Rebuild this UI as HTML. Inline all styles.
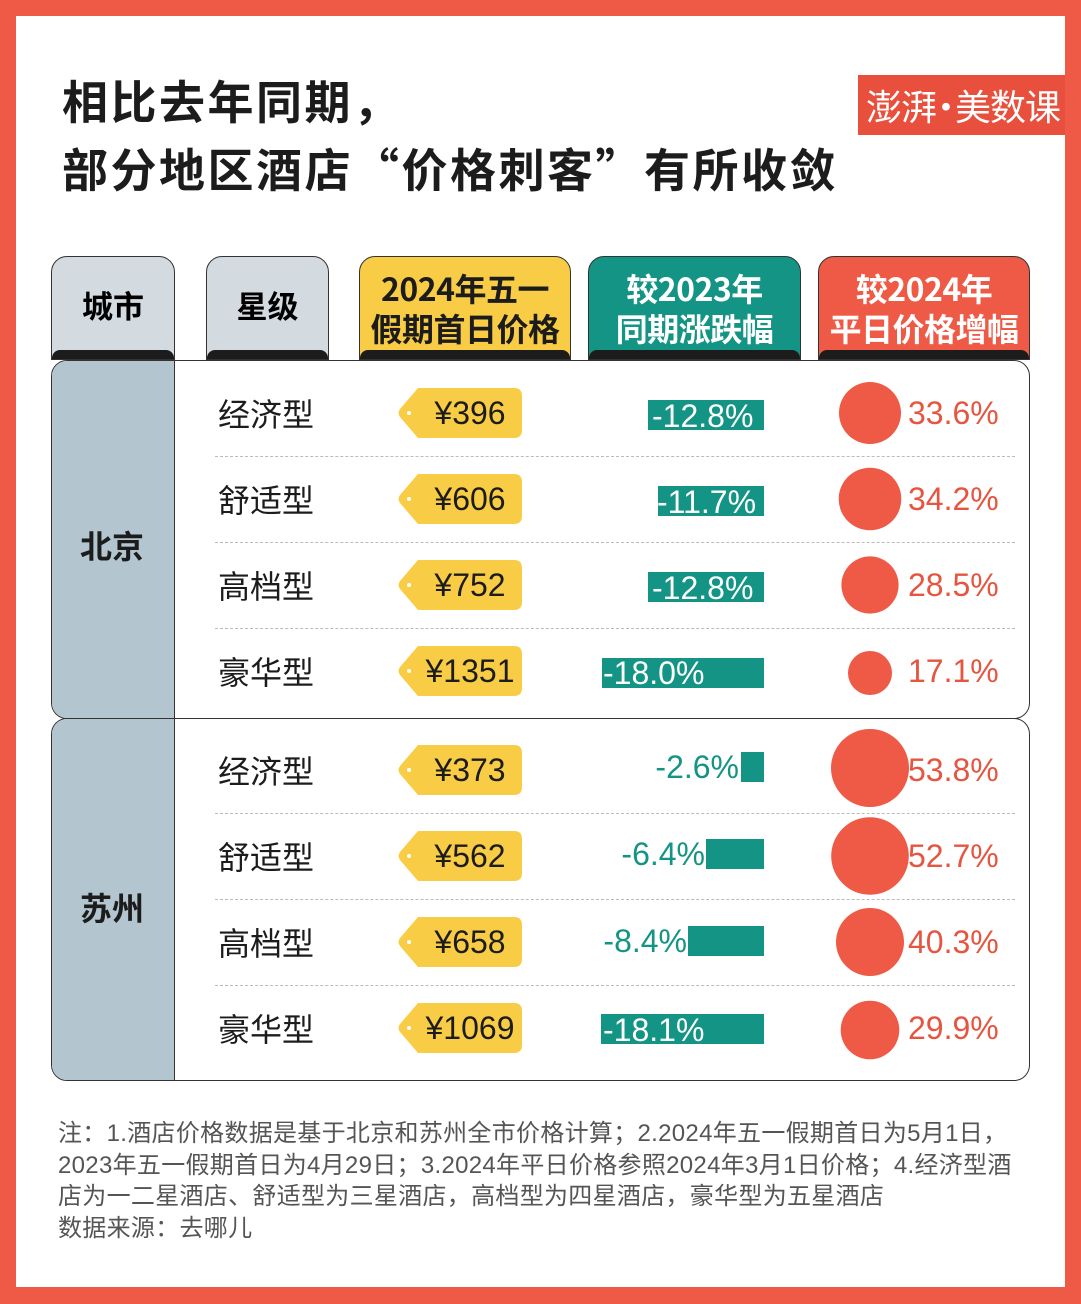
<!DOCTYPE html>
<html><head><meta charset="utf-8"><style>
*{margin:0;padding:0;box-sizing:border-box}
body{width:1081px;height:1304px;background:#ee5a45;position:relative;overflow:hidden;font-family:"Liberation Sans","Noto Sans CJK SC",sans-serif}
.in{position:absolute;left:16px;top:16px;width:1049px;height:1271px;background:#fff}
.a{position:absolute}
.t{font-size:46px;font-weight:bold;color:#1c1c1c;left:62px;line-height:68px;font-family:"Noto Sans CJK SC",sans-serif;white-space:nowrap;letter-spacing:2.5px}
.h{position:absolute;top:256px;height:104px;border:1.5px solid #333;border-radius:16px 16px 0 0;text-align:center;font-weight:bold;font-family:"Noto Sans CJK SC",sans-serif;overflow:hidden;white-space:nowrap}
.h .s{position:absolute;left:0;right:0;bottom:0;height:9px;background:#1c1c1c;border-radius:8px 8px 0 0}
.lab{position:absolute;left:218px;font-size:32px;color:#1c1c1c;font-family:"Noto Sans CJK SC",sans-serif;line-height:40px}
.tag{position:absolute;left:397px;width:126px;height:50px}
.tag span{position:absolute;left:0;right:0;top:0;line-height:50px;text-align:center;padding-left:20px;font-size:32px;color:#1c1c1c}
.bar{position:absolute;background:#149484;height:30px}
.pt{position:absolute;font-size:32px;line-height:32px;color:#fff}
.pt.o{color:#149484}
.pc{position:absolute;left:908px;font-size:32px;color:#e5553f;line-height:40px}
.d{position:absolute;left:215px;width:800px;border-top:1.5px dashed #bbb}
.city{position:absolute;left:80px;font-size:32px;font-weight:bold;font-family:"Noto Sans CJK SC",sans-serif;color:#1c1c1c}
.note{position:absolute;left:58px;top:1118px;width:975px;font-size:24px;line-height:31.5px;color:#555;font-family:"Liberation Sans","Noto Sans CJK SC",sans-serif;letter-spacing:0.3px}
</style></head><body>
<div class="in"></div>
<div class="a t" style="top:66px">相比去年同期，</div>
<div class="a t" style="top:134px">部分地区酒店“价格刺客”有所收敛</div>
<div class="a" style="left:858px;top:75px;width:207px;height:60px;background:#e8503d;color:#fff;font-size:36px;line-height:60px;padding-left:8px;font-family:'Noto Sans CJK SC',sans-serif;white-space:nowrap;letter-spacing:-1px">澎湃<span style="margin:0 -8px">·</span>美数课</div>

<div class="h" style="left:51px;width:124px;background:#d3dbe1;font-size:31px;line-height:96px">城市<div class="s"></div></div>
<div class="h" style="left:206px;width:123px;background:#d3dbe1;font-size:31px;line-height:96px">星级<div class="s"></div></div>
<div class="h" style="left:359px;width:212px;background:#f9cc45;font-size:32px;line-height:40px;padding-top:11px;color:#1c1c1c;letter-spacing:-0.5px">2024年五一<br>假期首日价格<div class="s"></div></div>
<div class="h" style="left:588px;width:213px;background:#149484;font-size:32px;line-height:40px;padding-top:11px;color:#fff;letter-spacing:-0.5px">较2023年<br>同期涨跌幅<div class="s"></div></div>
<div class="h" style="left:818px;width:212px;background:#ee5a45;font-size:32px;line-height:40px;padding-top:11px;color:#fff;letter-spacing:-0.5px">较2024年<br>平日价格增幅<div class="s"></div></div>

<div class="a" style="left:51px;top:360px;width:979px;height:359px;border:1.5px solid #333;border-radius:16px;background:#fff;overflow:hidden"><div class="a" style="left:0;top:0;width:123px;height:100%;background:#b3c6cf;border-right:1.5px solid #333"></div></div>
<div class="a" style="left:51px;top:718px;width:979px;height:363px;border:1.5px solid #333;border-radius:16px;background:#fff;overflow:hidden"><div class="a" style="left:0;top:0;width:123px;height:100%;background:#b3c6cf;border-right:1.5px solid #333"></div></div>
<div class="city" style="top:522px">北京</div>
<div class="city" style="top:884px">苏州</div>

<div class="d" style="top:456px"></div><div class="d" style="top:542px"></div><div class="d" style="top:628px"></div>
<div class="d" style="top:813px"></div><div class="d" style="top:899px"></div><div class="d" style="top:985px"></div>

<svg class="a" style="left:0;top:0" width="1081" height="1304">
<g fill="#f9cc45">
<path d="M418 388 H514 Q522 388 522 396 V430 Q522 438 514 438 H418 L400 417 Q397 413 400 409 Z"/>
<path d="M418 474 H514 Q522 474 522 482 V516 Q522 524 514 524 H418 L400 503 Q397 499 400 495 Z"/>
<path d="M418 560 H514 Q522 560 522 568 V602 Q522 610 514 610 H418 L400 589 Q397 585 400 581 Z"/>
<path d="M418 646 H514 Q522 646 522 654 V688 Q522 696 514 696 H418 L400 675 Q397 671 400 667 Z"/>
<path d="M418 745 H514 Q522 745 522 753 V787 Q522 795 514 795 H418 L400 774 Q397 770 400 766 Z"/>
<path d="M418 831 H514 Q522 831 522 839 V873 Q522 881 514 881 H418 L400 860 Q397 856 400 852 Z"/>
<path d="M418 917 H514 Q522 917 522 925 V959 Q522 967 514 967 H418 L400 946 Q397 942 400 938 Z"/>
<path d="M418 1003 H514 Q522 1003 522 1011 V1045 Q522 1053 514 1053 H418 L400 1032 Q397 1028 400 1024 Z"/>
</g>
<g fill="#fff"><circle cx="409" cy="413" r="2"/><circle cx="409" cy="499" r="2"/><circle cx="409" cy="585" r="2"/><circle cx="409" cy="671" r="2"/><circle cx="409" cy="770" r="2"/><circle cx="409" cy="856" r="2"/><circle cx="409" cy="942" r="2"/><circle cx="409" cy="1028" r="2"/></g>
<g fill="#ee5a45">
<circle cx="870" cy="413" r="31"/><circle cx="870" cy="499" r="31.3"/><circle cx="870" cy="585" r="28.6"/><circle cx="870" cy="673" r="22"/>
<circle cx="870" cy="768" r="39"/><circle cx="870" cy="856" r="38.8"/><circle cx="870" cy="942" r="34"/><circle cx="870" cy="1030" r="29.3"/>
</g>
</svg>

<div class="lab" style="top:393px">经济型</div><div class="lab" style="top:479px">舒适型</div><div class="lab" style="top:565px">高档型</div><div class="lab" style="top:651px">豪华型</div>
<div class="lab" style="top:750px">经济型</div><div class="lab" style="top:836px">舒适型</div><div class="lab" style="top:922px">高档型</div><div class="lab" style="top:1008px">豪华型</div>

<div class="tag" style="top:388px"><span>¥396</span></div>
<div class="tag" style="top:474px"><span>¥606</span></div>
<div class="tag" style="top:560px"><span>¥752</span></div>
<div class="tag" style="top:646px"><span>¥1351</span></div>
<div class="tag" style="top:745px"><span>¥373</span></div>
<div class="tag" style="top:831px"><span>¥562</span></div>
<div class="tag" style="top:917px"><span>¥658</span></div>
<div class="tag" style="top:1003px"><span>¥1069</span></div>

<div class="bar" style="left:648px;width:116px;top:400px"></div><div class="pt" style="left:652px;top:400px">-12.8%</div>
<div class="bar" style="left:658px;width:106px;top:486px"></div><div class="pt" style="left:657px;top:486px">-11.7%</div>
<div class="bar" style="left:648px;width:116px;top:572px"></div><div class="pt" style="left:652px;top:572px">-12.8%</div>
<div class="bar" style="left:602px;width:162px;top:658px"></div><div class="pt" style="left:603px;top:657px">-18.0%</div>
<div class="bar" style="left:741px;width:23px;top:752px"></div><div class="pt o" style="right:342px;top:751px">-2.6%</div>
<div class="bar" style="left:706px;width:58px;top:839px"></div><div class="pt o" style="right:376px;top:838px">-6.4%</div>
<div class="bar" style="left:688px;width:76px;top:926px"></div><div class="pt o" style="right:394px;top:925px">-8.4%</div>
<div class="bar" style="left:601px;width:163px;top:1014px"></div><div class="pt" style="left:603px;top:1014px">-18.1%</div>

<div class="pc" style="top:393px">33.6%</div><div class="pc" style="top:479px">34.2%</div><div class="pc" style="top:565px">28.5%</div><div class="pc" style="top:651px">17.1%</div>
<div class="pc" style="top:750px">53.8%</div><div class="pc" style="top:836px">52.7%</div><div class="pc" style="top:922px">40.3%</div><div class="pc" style="top:1008px">29.9%</div>

<div class="note">注：1.酒店价格数据是基于北京和苏州全市价格计算；2.2024年五一假期首日为5月1日，2023年五一假期首日为4月29日；3.2024年平日价格参照2024年3月1日价格；4.经济型酒店为一二星酒店、舒适型为三星酒店，高档型为四星酒店，豪华型为五星酒店<br>数据来源：去哪儿</div>
</body></html>
